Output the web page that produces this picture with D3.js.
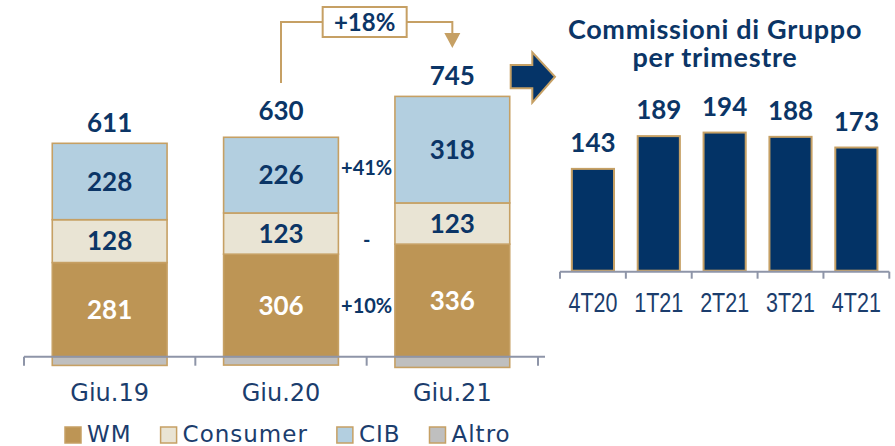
<!DOCTYPE html>
<html>
<head>
<meta charset="utf-8">
<script src="https://cdn.jsdelivr.net/npm/d3@7"></script>
<style>
body { margin: 0; background: #fff; }
text { font-family: Lato, sans-serif; }
</style>
</head>
<body>
<div id="chart"></div>
<script>
// left: commissioni per area di business (semestre)
var periods = ['Giu.19', 'Giu.20', 'Giu.21'];
var wm = [281, 306, 336];
var consumer = [128, 123, 123];
var cib = [228, 226, 318];
var altro = [-26, -25, -32];
var growth = {WM: '+10%', Consumer: '-', CIB: '+41%'};   // Giu.20 -> Giu.21
var totalGrowth = '+18%';

// right: commissioni di gruppo per trimestre
var quarters = ['4T20', '1T21', '2T21', '3T21', '4T21'];
var quarterly = [143, 189, 194, 188, 173];

var keys = ['WM', 'Consumer', 'CIB', 'Altro'];
var colors = {WM: '#bd9555', Consumer: '#e9e4d4', CIB: '#b3cfe0', Altro: '#bfbfbf'};
var navy = '#0b3566', gold = '#c6a064', axisCol = '#8e95a8';

var width = 895, height = 446;
var svg = d3.select('#chart').append('svg').attr('width', width).attr('height', height);

// ---------- left stacked chart
var rows = periods.map((p, i) => ({period: p, WM: wm[i], Consumer: consumer[i], CIB: cib[i], Altro: altro[i]}));
var series = d3.stack().keys(keys).offset(d3.stackOffsetDiverging)(rows);

var xL = d3.scaleBand().domain(periods).range([24, 538]).paddingInner(0.33).paddingOuter(0.165);
var yL = d3.scaleLinear().domain([0, 800]).range([356.7, 88.7]);

var left = svg.append('g');
series.forEach(s => {
    left.selectAll('.seg-' + s.key).data(s).enter().append('rect')
        .attr('x', d => xL(d.data.period))
        .attr('width', xL.bandwidth())
        .attr('y', d => yL(d[1]))
        .attr('height', d => yL(d[0]) - yL(d[1]))
        .style('fill', colors[s.key]).style('stroke', gold).style('stroke-width', 1.6);
    if (s.key == 'Altro') return;
    left.selectAll('.lab-' + s.key).data(s).enter().append('text')
        .attr('x', d => xL(d.data.period) + xL.bandwidth() / 2)
        .attr('y', d => (yL(d[0]) + yL(d[1])) / 2)
        .attr('dy', '0.36em').attr('text-anchor', 'middle')
        .style('font-size', '26px').style('font-weight', 'bold')
        .style('fill', s.key == 'WM' ? '#fff' : navy)
        .text(d => d.data[s.key]);
});

// axis
var stepL = xL.step();
left.append('line').attr('x1', 24).attr('x2', 545).attr('y1', yL(0)).attr('y2', yL(0))
    .style('stroke', axisCol).style('stroke-width', 2);
left.selectAll('.tickL').data(d3.range(periods.length + 1)).enter().append('line')
    .attr('x1', i => 24 + i * stepL).attr('x2', i => 24 + i * stepL)
    .attr('y1', yL(0)).attr('y2', yL(0) + 9)
    .style('stroke', axisCol).style('stroke-width', 2);
left.selectAll('.catL').data(periods).enter().append('text')
    .attr('x', d => xL(d) + xL.bandwidth() / 2).attr('y', 401)
    .attr('text-anchor', 'middle')
    .style('font-family', '"DejaVu Sans"').style('font-size', '24px').style('fill', '#1b3d6d')
    .text(d => d);

// totals
var cibSeries = series.find(s => s.key == 'CIB');
left.selectAll('.tot').data(rows).enter().append('text')
    .attr('x', d => xL(d.period) + xL.bandwidth() / 2)
    .attr('y', (d, i) => yL(cibSeries[i][1]) - (i == 1 ? 17 : 11))
    .attr('text-anchor', 'middle')
    .style('font-size', '26px').style('font-weight', 'bold').style('fill', navy)
    .text(d => keys.reduce((a, k) => a + d[k], 0));

// growth labels between Giu.20 and Giu.21
var midX = (xL(periods[1]) + xL.bandwidth() + xL(periods[2])) / 2;
series.filter(s => growth[s.key]).forEach(s => {
    var d = s[1];
    left.append('text')
        .attr('x', midX).attr('y', (yL(d[0]) + yL(d[1])) / 2 + (s.key == 'CIB' ? -7 : 0) + (s.key == 'Consumer' ? 6 : 0))
        .attr('dy', '0.36em').attr('text-anchor', 'middle')
        .style('font-size', '20px').style('font-weight', 'bold').style('fill', navy)
        .text(growth[s.key]);
});

// bracket +18%
var x2 = xL(periods[1]) + xL.bandwidth() / 2;
var x3 = xL(periods[2]) + xL.bandwidth() / 2;
var topY = 22;
left.append('path')
    .attr('d', `M${x2},83 V${topY} H${x3} V34`)
    .style('fill', 'none').style('stroke', gold).style('stroke-width', 2);
left.append('path')
    .attr('d', `M${x3 - 8},33 H${x3 + 8} L${x3},48 Z`)
    .style('fill', gold);
var bx = (x2 + x3) / 2 - 2;
left.append('rect').attr('x', bx - 42).attr('y', 7).attr('width', 84).attr('height', 30)
    .style('fill', '#fff').style('stroke', gold).style('stroke-width', 2);
left.append('text').attr('x', bx).attr('y', 31).attr('text-anchor', 'middle')
    .style('font-size', '24px').style('font-weight', 'bold').style('fill', navy)
    .text(totalGrowth);

// legend
var lg = svg.append('g').attr('transform', 'translate(65,0)');
var lx = 0;
keys.forEach(k => {
    lg.append('rect').attr('x', lx).attr('y', 427).attr('width', 16).attr('height', 16)
        .style('fill', colors[k]).style('stroke', gold).style('stroke-width', 1.5);
    var t = lg.append('text').attr('x', lx + 22).attr('y', 442)
        .style('font-family', '"DejaVu Sans"').style('font-size', '23px').style('letter-spacing', '1px')
        .style('fill', '#1b3d6d').text(k);
    lx += 22 + t.node().getComputedTextLength() + 29;
});

// ---------- arrow
svg.append('path')
    .attr('d', 'M510.7,65 H532.3 V52.3 L555,76.7 L532.3,102.7 V88.3 H510.7 Z')
    .style('fill', '#053468').style('stroke', gold).style('stroke-width', 2);

// ---------- right chart
var right = svg.append('g');
var title = right.append('text').attr('text-anchor', 'middle')
    .style('font-size', '27px').style('font-weight', 'bold').style('fill', navy)
    .style('letter-spacing', '0.7px');
title.append('tspan').attr('x', 715).attr('y', 39).text('Commissioni di Gruppo');
title.append('tspan').attr('x', 715).attr('y', 67).text('per trimestre');

var xR = d3.scaleBand().domain(quarters).range([560, 889.3]).paddingInner(0.36).paddingOuter(0.18);
var yR = d3.scaleLinear().domain([0, 200]).range([270.7, 128.3]);

right.selectAll('.barR').data(quarterly).enter().append('rect')
    .attr('x', (d, i) => xR(quarters[i]))
    .attr('width', xR.bandwidth())
    .attr('y', d => yR(d))
    .attr('height', d => yR(0) - yR(d))
    .style('fill', '#033366').style('stroke', gold).style('stroke-width', 2);
right.selectAll('.valR').data(quarterly).enter().append('text')
    .attr('x', (d, i) => xR(quarters[i]) + xR.bandwidth() / 2)
    .attr('y', d => yR(d) - 17)
    .attr('text-anchor', 'middle')
    .style('font-size', '26px').style('font-weight', 'bold').style('fill', navy)
    .text(d => d);

var stepR = xR.step();
right.append('line').attr('x1', 560).attr('x2', 889.3).attr('y1', yR(0) + 1).attr('y2', yR(0) + 1)
    .style('stroke', axisCol).style('stroke-width', 2);
right.selectAll('.tickR').data(d3.range(quarters.length + 1)).enter().append('line')
    .attr('x1', i => 560 + i * stepR).attr('x2', i => 560 + i * stepR)
    .attr('y1', yR(0) + 1).attr('y2', yR(0) + 8)
    .style('stroke', axisCol).style('stroke-width', 2);
right.selectAll('.catR').data(quarters).enter().append('text')
    .attr('x', d => xR(d) + xR.bandwidth() / 2).attr('y', 312)
    .attr('text-anchor', 'middle')
    .attr('textLength', 49).attr('lengthAdjust', 'spacingAndGlyphs')
    .style('font-family', '"Liberation Sans Narrow", "Liberation Sans"').style('font-size', '28px')
    .style('fill', '#1b3d6d')
    .text(d => d);
</script>
</body>
</html>
